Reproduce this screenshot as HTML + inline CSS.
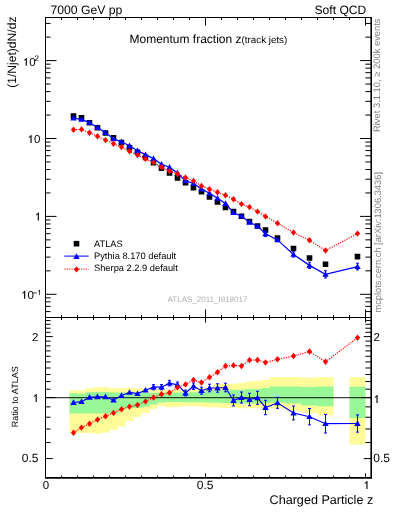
<!DOCTYPE html><html><head><meta charset="utf-8"><style>html,body{margin:0;padding:0;background:#fff;width:393px;height:512px;overflow:hidden}svg{display:block;will-change:transform}text{text-rendering:geometricPrecision}</style></head><body>
<svg width="393" height="512" viewBox="0 0 393 512">
<rect width="393" height="512" fill="#fff"/>
<path d="M69.50 390.20L77.50 390.20L77.50 390.60L85.50 390.60L85.50 388.20L93.50 388.20L93.50 387.20L101.50 387.20L101.50 387.20L109.50 387.20L109.50 388.20L117.50 388.20L117.50 388.00L125.50 388.00L125.50 388.00L133.50 388.00L133.50 388.50L141.50 388.50L141.50 389.00L149.50 389.00L149.50 389.60L157.50 389.60L157.50 389.80L165.50 389.80L165.50 389.80L173.50 389.80L173.50 389.80L181.50 389.80L181.50 389.60L189.50 389.60L189.50 389.50L197.50 389.50L197.50 387.70L205.50 387.70L205.50 387.50L213.50 387.50L213.50 383.70L221.50 383.70L221.50 383.70L229.50 383.70L229.50 383.70L237.50 383.70L237.50 383.00L245.50 383.00L245.50 381.50L253.50 381.50L253.50 380.70L261.50 380.70L261.50 380.00L269.50 380.00L269.50 376.90L285.50 376.90L285.50 376.90L301.50 376.90L301.50 377.50L317.50 377.50L317.50 376.90L333.50 376.90L333.50 415.50L317.50 415.50L317.50 413.00L301.50 413.00L301.50 411.20L285.50 411.20L285.50 408.20L269.50 408.20L269.50 408.30L261.50 408.30L261.50 408.30L253.50 408.30L253.50 408.30L245.50 408.30L245.50 408.20L237.50 408.20L237.50 407.60L229.50 407.60L229.50 408.00L221.50 408.00L221.50 407.50L213.50 407.50L213.50 407.20L205.50 407.20L205.50 406.80L197.50 406.80L197.50 406.30L189.50 406.30L189.50 406.30L181.50 406.30L181.50 406.80L173.50 406.80L173.50 407.30L165.50 407.30L165.50 405.80L157.50 405.80L157.50 409.00L149.50 409.00L149.50 412.80L141.50 412.80L141.50 417.10L133.50 417.10L133.50 421.10L125.50 421.10L125.50 426.60L117.50 426.60L117.50 429.70L109.50 429.70L109.50 432.50L101.50 432.50L101.50 433.70L93.50 433.70L93.50 433.00L85.50 433.00L85.50 433.00L77.50 433.00L77.50 433.00L69.50 433.00ZM349.50 377.00L365.50 377.00L365.50 444.50L349.50 444.50Z" fill="#fffb98"/>
<path d="M69.50 393.20L77.50 393.20L77.50 393.70L85.50 393.70L85.50 392.30L93.50 392.30L93.50 392.10L101.50 392.10L101.50 392.10L109.50 392.10L109.50 392.40L117.50 392.40L117.50 392.60L125.50 392.60L125.50 392.80L133.50 392.80L133.50 392.80L141.50 392.80L141.50 392.80L149.50 392.80L149.50 392.80L157.50 392.80L157.50 392.70L165.50 392.70L165.50 392.60L173.50 392.60L173.50 392.60L181.50 392.60L181.50 392.50L189.50 392.50L189.50 392.30L197.50 392.30L197.50 391.00L205.50 391.00L205.50 390.70L213.50 390.70L213.50 390.50L221.50 390.50L221.50 390.20L229.50 390.20L229.50 389.80L237.50 389.80L237.50 389.80L245.50 389.80L245.50 389.10L253.50 389.10L253.50 389.10L261.50 389.10L261.50 388.00L269.50 388.00L269.50 386.50L285.50 386.50L285.50 386.50L301.50 386.50L301.50 387.10L317.50 387.10L317.50 386.60L333.50 386.60L333.50 406.30L317.50 406.30L317.50 405.40L301.50 405.40L301.50 403.60L285.50 403.60L285.50 402.80L269.50 402.80L269.50 403.60L261.50 403.60L261.50 403.50L253.50 403.50L253.50 403.50L245.50 403.50L245.50 403.50L237.50 403.50L237.50 403.30L229.50 403.30L229.50 403.00L221.50 403.00L221.50 402.80L213.50 402.80L213.50 402.50L205.50 402.50L205.50 402.30L197.50 402.30L197.50 402.20L189.50 402.20L189.50 402.20L181.50 402.20L181.50 402.00L173.50 402.00L173.50 402.00L165.50 402.00L165.50 402.60L157.50 402.60L157.50 404.50L149.50 404.50L149.50 406.50L141.50 406.50L141.50 407.70L133.50 407.70L133.50 408.20L125.50 408.20L125.50 410.30L117.50 410.30L117.50 413.50L109.50 413.50L109.50 413.50L101.50 413.50L101.50 413.50L93.50 413.50L93.50 413.50L85.50 413.50L85.50 413.50L77.50 413.50L77.50 413.50L69.50 413.50ZM349.50 386.80L365.50 386.80L365.50 418.10L349.50 418.10Z" fill="#98f898"/>
<line x1="45.5" y1="397.7" x2="371.0" y2="397.7" stroke="#000" stroke-opacity="0.75" stroke-width="1.2"/>
<path d="M45.5 17.5V25.5M45.5 317.5V309.5M45.5 317.5V322.5M45.5 477.8V473.3M61.5 17.5V20.0M61.5 317.5V315.0M61.5 317.5V320.0M61.5 477.8V475.6M77.5 17.5V20.0M77.5 317.5V315.0M77.5 317.5V320.0M77.5 477.8V475.6M93.5 17.5V20.0M93.5 317.5V315.0M93.5 317.5V320.0M93.5 477.8V475.6M109.5 17.5V20.0M109.5 317.5V315.0M109.5 317.5V320.0M109.5 477.8V475.6M125.5 17.5V20.0M125.5 317.5V315.0M125.5 317.5V320.0M125.5 477.8V475.6M141.5 17.5V20.0M141.5 317.5V315.0M141.5 317.5V320.0M141.5 477.8V475.6M157.5 17.5V20.0M157.5 317.5V315.0M157.5 317.5V320.0M157.5 477.8V475.6M173.5 17.5V20.0M173.5 317.5V315.0M173.5 317.5V320.0M173.5 477.8V475.6M189.5 17.5V20.0M189.5 317.5V315.0M189.5 317.5V320.0M189.5 477.8V475.6M205.5 17.5V25.5M205.5 317.5V309.5M205.5 317.5V322.5M205.5 477.8V473.3M221.5 17.5V20.0M221.5 317.5V315.0M221.5 317.5V320.0M221.5 477.8V475.6M237.50000000000003 17.5V20.0M237.50000000000003 317.5V315.0M237.50000000000003 317.5V320.0M237.50000000000003 477.8V475.6M253.5 17.5V20.0M253.5 317.5V315.0M253.5 317.5V320.0M253.5 477.8V475.6M269.5 17.5V20.0M269.5 317.5V315.0M269.5 317.5V320.0M269.5 477.8V475.6M285.5 17.5V20.0M285.5 317.5V315.0M285.5 317.5V320.0M285.5 477.8V475.6M301.5 17.5V20.0M301.5 317.5V315.0M301.5 317.5V320.0M301.5 477.8V475.6M317.5 17.5V20.0M317.5 317.5V315.0M317.5 317.5V320.0M317.5 477.8V475.6M333.5 17.5V20.0M333.5 317.5V315.0M333.5 317.5V320.0M333.5 477.8V475.6M349.5 17.5V20.0M349.5 317.5V315.0M349.5 317.5V320.0M349.5 477.8V475.6M365.5 17.5V25.5M365.5 317.5V309.5M365.5 317.5V322.5M365.5 477.8V473.3M45.5 311.58H50.5M371.0 311.58H365.4M45.5 306.37H50.5M371.0 306.37H365.4M45.5 301.85H50.5M371.0 301.85H365.4M45.5 297.86H50.5M371.0 297.86H365.4M45.5 294.30H56.5M371.0 294.30H360.0M45.5 270.85H50.5M371.0 270.85H365.4M45.5 257.13H50.5M371.0 257.13H365.4M45.5 247.40H50.5M371.0 247.40H365.4M45.5 239.85H50.5M371.0 239.85H365.4M45.5 233.68H50.5M371.0 233.68H365.4M45.5 228.47H50.5M371.0 228.47H365.4M45.5 223.95H50.5M371.0 223.95H365.4M45.5 219.96H50.5M371.0 219.96H365.4M45.5 216.40H56.5M371.0 216.40H360.0M45.5 192.95H50.5M371.0 192.95H365.4M45.5 179.23H50.5M371.0 179.23H365.4M45.5 169.50H50.5M371.0 169.50H365.4M45.5 161.95H50.5M371.0 161.95H365.4M45.5 155.78H50.5M371.0 155.78H365.4M45.5 150.57H50.5M371.0 150.57H365.4M45.5 146.05H50.5M371.0 146.05H365.4M45.5 142.06H50.5M371.0 142.06H365.4M45.5 138.50H56.5M371.0 138.50H360.0M45.5 115.05H50.5M371.0 115.05H365.4M45.5 101.33H50.5M371.0 101.33H365.4M45.5 91.60H50.5M371.0 91.60H365.4M45.5 84.05H50.5M371.0 84.05H365.4M45.5 77.88H50.5M371.0 77.88H365.4M45.5 72.67H50.5M371.0 72.67H365.4M45.5 68.15H50.5M371.0 68.15H365.4M45.5 64.16H50.5M371.0 64.16H365.4M45.5 60.60H56.5M371.0 60.60H360.0M45.5 37.15H50.5M371.0 37.15H365.4M45.5 23.43H50.5M371.0 23.43H365.4M45.5 458.59H52.8M371.0 458.59H363.7M45.5 442.55H50.5M371.0 442.55H365.4M45.5 428.98H50.5M371.0 428.98H365.4M45.5 417.23H50.5M371.0 417.23H365.4M45.5 406.87H50.5M371.0 406.87H365.4M45.5 397.60H55.5M371.0 397.60H361.0M45.5 389.21H50.5M371.0 389.21H365.4M45.5 381.56H50.5M371.0 381.56H365.4M45.5 374.52H50.5M371.0 374.52H365.4M45.5 367.99H50.5M371.0 367.99H365.4M45.5 361.92H50.5M371.0 361.92H365.4M45.5 356.25H50.5M371.0 356.25H365.4M45.5 350.91H50.5M371.0 350.91H365.4M45.5 345.88H50.5M371.0 345.88H365.4M45.5 341.12H50.5M371.0 341.12H365.4M45.5 336.61H52.8M371.0 336.61H363.7M45.5 332.32H50.5M371.0 332.32H365.4M45.5 328.23H50.5M371.0 328.23H365.4M45.5 324.31H50.5M371.0 324.31H365.4M45.5 320.57H50.5M371.0 320.57H365.4" stroke="#000" stroke-width="1" fill="none"/>
<path d="M371.6 17.5H45.5V477.8 M45.5 317.5H371.0" stroke="#000" stroke-width="1" fill="none"/>
<path d="M371.2 17.0V478.6" stroke="#000" stroke-width="1.6" fill="none"/>
<line x1="45.0" y1="477.9" x2="372.0" y2="477.9" stroke="#000" stroke-width="1.8"/>
<path d="M70.70 113.37h5.60v5.60h-5.60ZM78.70 115.06h5.60v5.60h-5.60ZM86.70 119.96h5.60v5.60h-5.60ZM94.70 124.94h5.60v5.60h-5.60ZM102.70 130.15h5.60v5.60h-5.60ZM110.70 135.12h5.60v5.60h-5.60ZM118.70 139.84h5.60v5.60h-5.60ZM126.70 144.94h5.60v5.60h-5.60ZM134.70 149.45h5.60v5.60h-5.60ZM142.70 154.64h5.60v5.60h-5.60ZM150.70 159.84h5.60v5.60h-5.60ZM158.70 165.47h5.60v5.60h-5.60ZM166.70 170.05h5.60v5.60h-5.60ZM174.70 175.12h5.60v5.60h-5.60ZM182.70 179.88h5.60v5.60h-5.60ZM190.70 184.87h5.60v5.60h-5.60ZM198.70 189.01h5.60v5.60h-5.60ZM206.70 194.21h5.60v5.60h-5.60ZM214.70 199.17h5.60v5.60h-5.60ZM222.70 204.65h5.60v5.60h-5.60ZM230.70 208.78h5.60v5.60h-5.60ZM238.70 213.45h5.60v5.60h-5.60ZM246.70 218.72h5.60v5.60h-5.60ZM254.70 223.26h5.60v5.60h-5.60ZM262.70 227.20h5.60v5.60h-5.60ZM274.70 235.13h5.60v5.60h-5.60ZM290.70 245.70h5.60v5.60h-5.60ZM306.70 255.23h5.60v5.60h-5.60ZM322.70 261.50h5.60v5.60h-5.60ZM354.70 253.79h5.60v5.60h-5.60Z" fill="#000"/>
<polyline points="73.50,118.05 81.50,119.44 89.50,122.65 97.50,127.43 105.50,132.64 113.50,138.84 121.50,141.83 129.50,145.74 137.50,150.72 145.50,154.59 153.50,158.64 161.50,164.27 169.50,167.27 177.50,173.00 185.50,180.91 193.50,183.28 201.50,189.15 209.50,193.31 217.50,198.28 225.50,203.57 233.50,212.70 241.50,216.21 249.50,222.25 257.50,226.13 265.50,233.80 277.50,239.93 293.50,254.42 309.50,265.37 325.50,274.34 357.50,266.55" fill="none" stroke="#0000ff" stroke-width="1.2"/>
<path d="M265.5 231.03V236.57M264.0 231.03h3M264.0 236.57h3M293.5 251.76V257.07M292.0 251.76h3M292.0 257.07h3M309.5 262.22V268.52M308.0 262.22h3M308.0 268.52h3M325.5 270.76V277.91M324.0 270.76h3M324.0 277.91h3M357.5 263.25V269.86M356.0 263.25h3M356.0 269.86h3" stroke="#0000ff" stroke-width="1" fill="none"/>
<path d="M73.50 114.85L76.70 120.45L70.30 120.45ZM81.50 116.24L84.70 121.84L78.30 121.84ZM89.50 119.45L92.70 125.05L86.30 125.05ZM97.50 124.23L100.70 129.83L94.30 129.83ZM105.50 129.44L108.70 135.04L102.30 135.04ZM113.50 135.64L116.70 141.24L110.30 141.24ZM121.50 138.63L124.70 144.23L118.30 144.23ZM129.50 142.54L132.70 148.14L126.30 148.14ZM137.50 147.52L140.70 153.12L134.30 153.12ZM145.50 151.39L148.70 156.99L142.30 156.99ZM153.50 155.44L156.70 161.04L150.30 161.04ZM161.50 161.07L164.70 166.67L158.30 166.67ZM169.50 164.07L172.70 169.67L166.30 169.67ZM177.50 169.80L180.70 175.40L174.30 175.40ZM185.50 177.71L188.70 183.31L182.30 183.31ZM193.50 180.08L196.70 185.68L190.30 185.68ZM201.50 185.95L204.70 191.55L198.30 191.55ZM209.50 190.11L212.70 195.71L206.30 195.71ZM217.50 195.08L220.70 200.68L214.30 200.68ZM225.50 200.37L228.70 205.97L222.30 205.97ZM233.50 209.50L236.70 215.10L230.30 215.10ZM241.50 213.01L244.70 218.61L238.30 218.61ZM249.50 219.05L252.70 224.65L246.30 224.65ZM257.50 222.93L260.70 228.53L254.30 228.53ZM265.50 230.60L268.70 236.20L262.30 236.20ZM277.50 236.73L280.70 242.33L274.30 242.33ZM293.50 251.22L296.70 256.82L290.30 256.82ZM309.50 262.17L312.70 267.77L306.30 267.77ZM325.50 271.14L328.70 276.74L322.30 276.74ZM357.50 263.35L360.70 268.95L354.30 268.95Z" fill="#0000ff"/>
<polyline points="73.50,129.70 81.50,129.40 89.50,132.80 97.50,136.20 105.50,140.10 113.50,143.80 121.50,147.10 129.50,151.20 137.50,155.10 145.50,158.90 153.50,162.60 161.50,167.00 169.50,171.00 177.50,174.00 185.50,177.60 193.50,180.90 201.50,186.00 209.50,189.20 217.50,192.20 225.50,195.30 233.50,199.20 241.50,204.10 249.50,207.10 257.50,211.60 265.50,216.50 277.50,223.20 293.50,232.50 309.50,240.30 325.50,250.50 357.50,233.60" fill="none" stroke="#ff0000" stroke-width="1.2" stroke-dasharray="1.2 1.2"/>
<path d="M73.50 126.50L76.10 129.70L73.50 132.90L70.90 129.70ZM81.50 126.20L84.10 129.40L81.50 132.60L78.90 129.40ZM89.50 129.60L92.10 132.80L89.50 136.00L86.90 132.80ZM97.50 133.00L100.10 136.20L97.50 139.40L94.90 136.20ZM105.50 136.90L108.10 140.10L105.50 143.30L102.90 140.10ZM113.50 140.60L116.10 143.80L113.50 147.00L110.90 143.80ZM121.50 143.90L124.10 147.10L121.50 150.30L118.90 147.10ZM129.50 148.00L132.10 151.20L129.50 154.40L126.90 151.20ZM137.50 151.90L140.10 155.10L137.50 158.30L134.90 155.10ZM145.50 155.70L148.10 158.90L145.50 162.10L142.90 158.90ZM153.50 159.40L156.10 162.60L153.50 165.80L150.90 162.60ZM161.50 163.80L164.10 167.00L161.50 170.20L158.90 167.00ZM169.50 167.80L172.10 171.00L169.50 174.20L166.90 171.00ZM177.50 170.80L180.10 174.00L177.50 177.20L174.90 174.00ZM185.50 174.40L188.10 177.60L185.50 180.80L182.90 177.60ZM193.50 177.70L196.10 180.90L193.50 184.10L190.90 180.90ZM201.50 182.80L204.10 186.00L201.50 189.20L198.90 186.00ZM209.50 186.00L212.10 189.20L209.50 192.40L206.90 189.20ZM217.50 189.00L220.10 192.20L217.50 195.40L214.90 192.20ZM225.50 192.10L228.10 195.30L225.50 198.50L222.90 195.30ZM233.50 196.00L236.10 199.20L233.50 202.40L230.90 199.20ZM241.50 200.90L244.10 204.10L241.50 207.30L238.90 204.10ZM249.50 203.90L252.10 207.10L249.50 210.30L246.90 207.10ZM257.50 208.40L260.10 211.60L257.50 214.80L254.90 211.60ZM265.50 213.30L268.10 216.50L265.50 219.70L262.90 216.50ZM277.50 220.00L280.10 223.20L277.50 226.40L274.90 223.20ZM293.50 229.30L296.10 232.50L293.50 235.70L290.90 232.50ZM309.50 237.10L312.10 240.30L309.50 243.50L306.90 240.30ZM325.50 247.30L328.10 250.50L325.50 253.70L322.90 250.50ZM357.50 230.40L360.10 233.60L357.50 236.80L354.90 233.60Z" fill="#ff0000"/>
<polyline points="73.50,402.50 81.50,401.70 89.50,397.30 97.50,396.80 105.50,396.80 113.50,400.00 121.50,395.50 129.50,392.40 137.50,393.60 145.50,390.20 153.50,387.20 161.50,387.20 169.50,383.10 177.50,384.80 185.50,393.00 193.50,386.20 201.50,390.70 209.50,388.00 217.50,388.00 225.50,387.50 233.50,400.50 241.50,397.50 249.50,399.50 257.50,397.80 265.50,407.50 277.50,402.80 293.50,413.00 309.50,416.70 325.50,423.70 357.50,423.50" fill="none" stroke="#0000ff" stroke-width="1.2"/>
<path d="M153.5 384.60V389.80M152.0 384.60h3M152.0 389.80h3M161.5 384.60V389.80M160.0 384.60h3M160.0 389.80h3M169.5 380.30V385.90M168.0 380.30h3M168.0 385.90h3M177.5 382.00V387.60M176.0 382.00h3M176.0 387.60h3M185.5 390.10V395.90M184.0 390.10h3M184.0 395.90h3M193.5 383.00V389.40M192.0 383.00h3M192.0 389.40h3M201.5 387.20V394.20M200.0 387.20h3M200.0 394.20h3M209.5 384.20V391.80M208.0 384.20h3M208.0 391.80h3M217.5 383.80V392.20M216.0 383.80h3M216.0 392.20h3M225.5 383.20V391.80M224.0 383.20h3M224.0 391.80h3M233.5 395.00V406.00M232.0 395.00h3M232.0 406.00h3M241.5 392.00V403.00M240.0 392.00h3M240.0 403.00h3M249.5 393.30V405.70M248.0 393.30h3M248.0 405.70h3M257.5 391.30V404.30M256.0 391.30h3M256.0 404.30h3M265.5 400.30V414.70M264.0 400.30h3M264.0 414.70h3M277.5 397.30V408.30M276.0 397.30h3M276.0 408.30h3M293.5 406.10V419.90M292.0 406.10h3M292.0 419.90h3M309.5 408.50V424.90M308.0 408.50h3M308.0 424.90h3M325.5 414.40V433.00M324.0 414.40h3M324.0 433.00h3M357.5 414.90V432.10M356.0 414.90h3M356.0 432.10h3" stroke="#0000ff" stroke-width="1" fill="none"/>
<path d="M73.50 399.30L76.70 404.90L70.30 404.90ZM81.50 398.50L84.70 404.10L78.30 404.10ZM89.50 394.10L92.70 399.70L86.30 399.70ZM97.50 393.60L100.70 399.20L94.30 399.20ZM105.50 393.60L108.70 399.20L102.30 399.20ZM113.50 396.80L116.70 402.40L110.30 402.40ZM121.50 392.30L124.70 397.90L118.30 397.90ZM129.50 389.20L132.70 394.80L126.30 394.80ZM137.50 390.40L140.70 396.00L134.30 396.00ZM145.50 387.00L148.70 392.60L142.30 392.60ZM153.50 384.00L156.70 389.60L150.30 389.60ZM161.50 384.00L164.70 389.60L158.30 389.60ZM169.50 379.90L172.70 385.50L166.30 385.50ZM177.50 381.60L180.70 387.20L174.30 387.20ZM185.50 389.80L188.70 395.40L182.30 395.40ZM193.50 383.00L196.70 388.60L190.30 388.60ZM201.50 387.50L204.70 393.10L198.30 393.10ZM209.50 384.80L212.70 390.40L206.30 390.40ZM217.50 384.80L220.70 390.40L214.30 390.40ZM225.50 384.30L228.70 389.90L222.30 389.90ZM233.50 397.30L236.70 402.90L230.30 402.90ZM241.50 394.30L244.70 399.90L238.30 399.90ZM249.50 396.30L252.70 401.90L246.30 401.90ZM257.50 394.60L260.70 400.20L254.30 400.20ZM265.50 404.30L268.70 409.90L262.30 409.90ZM277.50 399.60L280.70 405.20L274.30 405.20ZM293.50 409.80L296.70 415.40L290.30 415.40ZM309.50 413.50L312.70 419.10L306.30 419.10ZM325.50 420.50L328.70 426.10L322.30 426.10ZM357.50 420.30L360.70 425.90L354.30 425.90Z" fill="#0000ff"/>
<polyline points="73.50,432.80 81.50,427.60 89.50,423.70 97.50,419.60 105.50,416.20 113.50,412.90 121.50,409.20 129.50,406.60 137.50,405.00 145.50,401.40 153.50,397.50 161.50,394.30 169.50,392.80 177.50,387.40 185.50,384.40 193.50,380.00 201.50,382.50 209.50,377.30 217.50,372.20 225.50,366.00 233.50,365.40 241.50,366.00 249.50,360.10 257.50,360.00 265.50,362.50 277.50,359.30 293.50,356.00 309.50,351.50 325.50,361.70 357.50,337.80" fill="none" stroke="#ff0000" stroke-width="1.2" stroke-dasharray="1.2 1.2"/>
<path d="M73.50 429.60L76.10 432.80L73.50 436.00L70.90 432.80ZM81.50 424.40L84.10 427.60L81.50 430.80L78.90 427.60ZM89.50 420.50L92.10 423.70L89.50 426.90L86.90 423.70ZM97.50 416.40L100.10 419.60L97.50 422.80L94.90 419.60ZM105.50 413.00L108.10 416.20L105.50 419.40L102.90 416.20ZM113.50 409.70L116.10 412.90L113.50 416.10L110.90 412.90ZM121.50 406.00L124.10 409.20L121.50 412.40L118.90 409.20ZM129.50 403.40L132.10 406.60L129.50 409.80L126.90 406.60ZM137.50 401.80L140.10 405.00L137.50 408.20L134.90 405.00ZM145.50 398.20L148.10 401.40L145.50 404.60L142.90 401.40ZM153.50 394.30L156.10 397.50L153.50 400.70L150.90 397.50ZM161.50 391.10L164.10 394.30L161.50 397.50L158.90 394.30ZM169.50 389.60L172.10 392.80L169.50 396.00L166.90 392.80ZM177.50 384.20L180.10 387.40L177.50 390.60L174.90 387.40ZM185.50 381.20L188.10 384.40L185.50 387.60L182.90 384.40ZM193.50 376.80L196.10 380.00L193.50 383.20L190.90 380.00ZM201.50 379.30L204.10 382.50L201.50 385.70L198.90 382.50ZM209.50 374.10L212.10 377.30L209.50 380.50L206.90 377.30ZM217.50 369.00L220.10 372.20L217.50 375.40L214.90 372.20ZM225.50 362.80L228.10 366.00L225.50 369.20L222.90 366.00ZM233.50 362.20L236.10 365.40L233.50 368.60L230.90 365.40ZM241.50 362.80L244.10 366.00L241.50 369.20L238.90 366.00ZM249.50 356.90L252.10 360.10L249.50 363.30L246.90 360.10ZM257.50 356.80L260.10 360.00L257.50 363.20L254.90 360.00ZM265.50 359.30L268.10 362.50L265.50 365.70L262.90 362.50ZM277.50 356.10L280.10 359.30L277.50 362.50L274.90 359.30ZM293.50 352.80L296.10 356.00L293.50 359.20L290.90 356.00ZM309.50 348.30L312.10 351.50L309.50 354.70L306.90 351.50ZM325.50 358.50L328.10 361.70L325.50 364.90L322.90 361.70ZM357.50 334.60L360.10 337.80L357.50 341.00L354.90 337.80Z" fill="#ff0000"/>
<path d="M73.70 240.90h5.60v5.60h-5.60Z" fill="#000"/>
<line x1="64.3" y1="256.1" x2="88.7" y2="256.1" stroke="#0000ff" stroke-width="1.0"/>
<path d="M76.50 253.30L79.70 258.90L73.30 258.90Z" fill="#0000ff"/>
<line x1="64.3" y1="269.1" x2="88.7" y2="269.1" stroke="#ff0000" stroke-width="1.0" stroke-dasharray="1.2 1.2"/>
<path d="M76.50 266.20L79.10 269.40L76.50 272.60L73.90 269.40Z" fill="#ff0000"/>
<text x="50.5" y="13.7" font-family="Liberation Sans, sans-serif" font-size="12.2" text-anchor="start" fill="#000" >7000 GeV pp</text>
<text x="366.3" y="14" font-family="Liberation Sans, sans-serif" font-size="12.1" text-anchor="end" fill="#000" >Soft QCD</text>
<text x="129.5" y="42.9" font-family="Liberation Sans, sans-serif" font-size="12" text-anchor="start" fill="#000" >Momentum fraction z<tspan font-size="9.8">(track jets)</tspan></text>
<text x="94" y="246.7" font-family="Liberation Sans, sans-serif" font-size="9.3" text-anchor="start" fill="#000" >ATLAS</text>
<text x="94" y="259.0" font-family="Liberation Sans, sans-serif" font-size="9.3" text-anchor="start" fill="#000" >Pythia 8.170 default</text>
<text x="94" y="271.3" font-family="Liberation Sans, sans-serif" font-size="9.3" text-anchor="start" fill="#000" >Sherpa 2.2.9 default</text>
<text x="207.5" y="301.8" font-family="Liberation Sans, sans-serif" font-size="8" text-anchor="middle" fill="#b0b0b0" >ATLAS_2011_I919017</text>
<text x="373.2" y="504" font-family="Liberation Sans, sans-serif" font-size="12.6" text-anchor="end" fill="#000" >Charged Particle z</text>
<text transform="translate(16.3,87.8) rotate(-90)" font-family="Liberation Sans, sans-serif" font-size="12.1">(1/Njet)dN/dz</text>
<text transform="translate(18,427.2) rotate(-90)" font-family="Liberation Sans, sans-serif" font-size="9">Ratio to ATLAS</text>
<text transform="translate(380.2,132) rotate(-90)" font-family="Liberation Sans, sans-serif" font-size="9.4" fill="#808080">Rivet 3.1.10, ≥ 200k events</text>
<text transform="translate(380.5,312.6) rotate(-90)" font-family="Liberation Sans, sans-serif" font-size="9.3" fill="#808080">mcplots.cern.ch [arXiv:1306.3436]</text>
<text x="29.15" y="65.8" font-family="Liberation Sans, sans-serif" font-size="11.5">0</text>
<text x="34.60" y="60.9" font-family="Liberation Sans, sans-serif" font-size="8">2</text>
<text x="33.90" y="142.9" font-family="Liberation Sans, sans-serif" font-size="11.5">0</text>
<text x="27.50" y="298.7" font-family="Liberation Sans, sans-serif" font-size="11.5">0</text>
<rect x="33.2" y="292.4" width="3.7" height="1" fill="#000" fill-opacity="0.75"/>
<text x="42.80" y="488.9" font-family="Liberation Sans, sans-serif" font-size="11.5">0</text>
<text x="196.86" y="488.9" font-family="Liberation Sans, sans-serif" font-size="12">0.5</text>
<text x="32.10" y="340.8" font-family="Liberation Sans, sans-serif" font-size="11.5">2</text>
<text x="21.72" y="462" font-family="Liberation Sans, sans-serif" font-size="12">0.5</text>
<text x="373.50" y="340.7" font-family="Liberation Sans, sans-serif" font-size="11.5">2</text>
<text x="373.30" y="462" font-family="Liberation Sans, sans-serif" font-size="12">0.5</text>
<g fill="#000"><path transform="translate(22.75,65.8) scale(0.00562,-0.00562)" d="M732 0L530 0L530 1090C490 1053 440 1018 380 982C314 943 256 913 218 898L218 1070C310 1113 391 1165 460 1227C529 1289 578 1351 606 1409L732 1409Z"/><path transform="translate(27.51,142.9) scale(0.00562,-0.00562)" d="M732 0L530 0L530 1090C490 1053 440 1018 380 982C314 943 256 913 218 898L218 1070C310 1113 391 1165 460 1227C529 1289 578 1351 606 1409L732 1409Z"/><path transform="translate(34.80,220.5) scale(0.00562,-0.00562)" d="M732 0L530 0L530 1090C490 1053 440 1018 380 982C314 943 256 913 218 898L218 1070C310 1113 391 1165 460 1227C529 1289 578 1351 606 1409L732 1409Z"/><path transform="translate(21.11,298.7) scale(0.00562,-0.00562)" d="M732 0L530 0L530 1090C490 1053 440 1018 380 982C314 943 256 913 218 898L218 1070C310 1113 391 1165 460 1227C529 1289 578 1351 606 1409L732 1409Z"/><path transform="translate(37.37,294.9) scale(0.00361,-0.00361)" d="M732 0L530 0L530 1090C490 1053 440 1018 380 982C314 943 256 913 218 898L218 1070C310 1113 391 1165 460 1227C529 1289 578 1351 606 1409L732 1409Z"/><path transform="translate(363.40,488.9) scale(0.00562,-0.00562)" d="M732 0L530 0L530 1090C490 1053 440 1018 380 982C314 943 256 913 218 898L218 1070C310 1113 391 1165 460 1227C529 1289 578 1351 606 1409L732 1409Z"/><path transform="translate(32.60,402) scale(0.00562,-0.00562)" d="M732 0L530 0L530 1090C490 1053 440 1018 380 982C314 943 256 913 218 898L218 1070C310 1113 391 1165 460 1227C529 1289 578 1351 606 1409L732 1409Z"/><path transform="translate(373.50,402.9) scale(0.00562,-0.00562)" d="M732 0L530 0L530 1090C490 1053 440 1018 380 982C314 943 256 913 218 898L218 1070C310 1113 391 1165 460 1227C529 1289 578 1351 606 1409L732 1409Z"/></g>
</svg></body></html>
